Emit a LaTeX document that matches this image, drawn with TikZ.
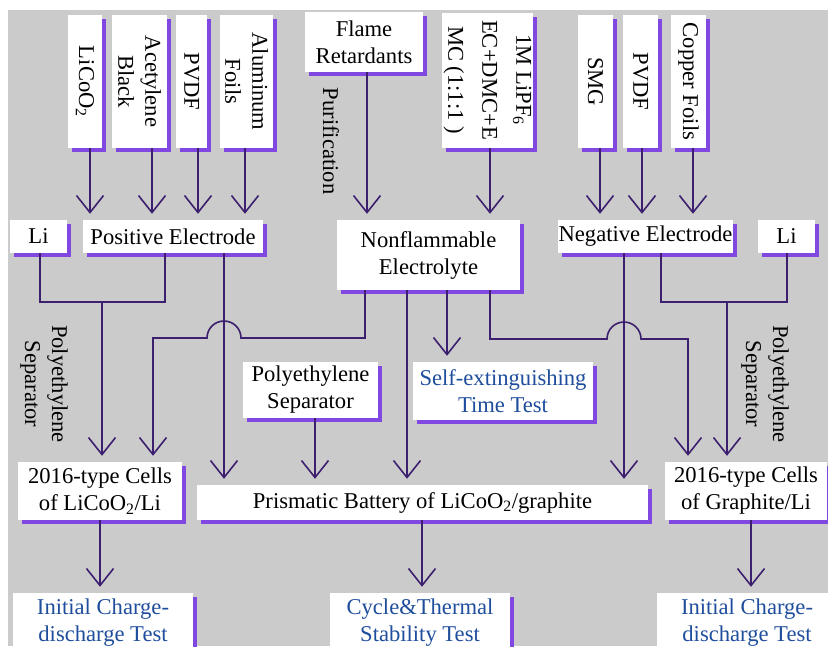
\documentclass[tikz,border=0pt]{standalone}
\usepackage{fontspec}
\setmainfont{Liberation Serif}
\usetikzlibrary{arrows.meta,shadows,positioning}

\definecolor{bggray}{HTML}{CBCBCB}
\definecolor{shadowpurple}{HTML}{8048E0}
\definecolor{linepurple}{HTML}{3C1F6E}
\definecolor{testblue}{HTML}{1F4E9C}

\tikzset{
  box/.style={fill=white, inner sep=0pt, align=center,
    general shadow={fill=shadowpurple, shadow xshift=4pt, shadow yshift=-4pt}},
  vbox/.style={box, rotate=-90},
  flow/.style={draw=linepurple, line width=1.6pt},
  arr/.style={flow, ->, shorten >=6pt},
  >={Straight Barb[length=17pt,width=27pt]},
}

\begin{document}
\begin{tikzpicture}[x=1pt, y=-1pt, every node/.style={font=\fontsize{22.6}{27}\selectfont}]
  \useasboundingbox (0,0) rectangle (828,646);
  \clip (0,0) rectangle (828,646);
  \fill[bggray] (8,10) rectangle (828,646); %Background

  %Raw materials
  \node[vbox, minimum width=133pt, minimum height=34pt] (licoo) at (85,81.5) {LiCoO\textsubscript{2}};
  \node[vbox, minimum width=133pt, minimum height=55pt] (acet) at (139.5,81.5) {Acetylene\\Black};
  \node[vbox, minimum width=133pt, minimum height=31pt] (pvdfa) at (191.5,81.5) {PVDF};
  \node[vbox, minimum width=133pt, minimum height=53pt] (alfoil) at (246.5,81.5) {Aluminum\\Foils};
  \node[box, minimum width=118pt, minimum height=60pt] (flame) at (364,42) {Flame\\Retardants};
  \node[vbox, minimum width=135pt, minimum height=91pt,
        font=\fontsize{22.6}{34}\selectfont] (lipf) at (487.5,80) {1M LiPF\textsubscript{6}\\EC+DMC+E\\MC (1:1:1 )};
  \node[vbox, minimum width=133pt, minimum height=35pt] (smg) at (595.5,81.5) {SMG};
  \node[vbox, minimum width=133pt, minimum height=35pt] (pvdfb) at (640.5,81.5) {PVDF};
  \node[vbox, minimum width=133pt, minimum height=35pt] (cufoil) at (688.5,81.5) {Copper Foils};
  \node[rotate=-90] (purif) at (331,141) {Purification};

  %Electrodes and electrolyte
  \node[box, minimum width=57pt, minimum height=33pt] (lil) at (38.5,236.5) {Li};
  \node[box, minimum width=180pt, minimum height=33pt] (posel) at (173,236.5) {Positive Electrode};
  \node[box, minimum width=183pt, minimum height=70pt] (elec) at (428.5,255) {Nonflammable\\Electrolyte};
  \node[box, minimum width=175pt, minimum height=33pt] (negel) at (645.5,236.5) {Negative Electrode};
  \node[box, minimum width=57pt, minimum height=33pt] (lir) at (786.5,236.5) {Li};

  %Separators and flame test
  \node[rotate=-90, align=center] (sepl) at (44,384) {Polyethylene\\Separator};
  \node[rotate=-90, align=center] (sepr) at (765,384) {Polyethylene\\Separator};
  \node[box, minimum width=135pt, minimum height=56pt] (pesep) at (310.5,390) {Polyethylene\\Separator};
  \node[box, minimum width=180pt, minimum height=58pt, text=testblue] (selfext) at (503,391) {Self-extinguishing\\Time Test};

  %Cells
  \node[box, minimum width=164pt, minimum height=58pt] (celll) at (100,491) {2016-type Cells\\of LiCoO\textsubscript{2}/Li};
  \node[box, minimum width=451pt, minimum height=35pt] (prism) at (422.5,502.5) {Prismatic Battery of LiCoO\textsubscript{2}/graphite};
  \node[box, minimum width=162pt, minimum height=58pt] (cellr) at (746,491) {2016-type Cells\\of Graphite/Li};

  %Tests
  \node[box, minimum width=180pt, minimum height=60pt, text=testblue] (testl) at (103,623) {Initial Charge-\\discharge Test};
  \node[box, minimum width=180pt, minimum height=60pt, text=testblue] (cyc) at (420,623) {Cycle\&Thermal\\Stability Test};
  \node[box, minimum width=180pt, minimum height=60pt, text=testblue] (testr) at (747,623) {Initial Charge-\\discharge Test};

  %Raw materials into electrodes
  \foreach \n/\x in {licoo/90, acet/152, pvdfa/198, alfoil/245}
    \draw[arr] (\n.east -| \x,0) -- (posel.north -| \x,0);
  \foreach \n/\x in {smg/600, pvdfb/642, cufoil/693}
    \draw[arr] (\n.east -| \x,0) -- (negel.north -| \x,0);
  \draw[arr] (flame.south -| 367,0) -- (elec.north -| 367,0);
  \draw[arr] (lipf.east -| 490,0) -- (elec.north -| 490,0);

  %Li and electrodes to half cells
  \coordinate (jl) at (102,302);
  \draw[flow] (lil.south -| 40,0) |- (jl) -| (posel.south -| 165,0);
  \draw[arr] (jl) -- (celll.north -| jl);
  \coordinate (jr) at (727,302);
  \draw[flow] (negel.south -| 661,0) |- (jr) -| (lir.south -| 787,0);
  \draw[arr] (jr) -- (cellr.north -| jr);

  %Into the prismatic battery
  \draw[arr] (posel.south -| 224,0) -- (prism.north -| 224,0);
  \draw[arr] (pesep.south -| 315,0) -- (prism.north -| 315,0);
  \draw[arr] (elec.south -| 407,0) -- (prism.north -| 407,0);
  \draw[arr] (negel.south -| 624,0) -- (prism.north -| 624,0);
  \draw[arr] (elec.south -| 447,0) -- (selfext.north -| 447,0);

  %Electrolyte to half cells (hopping over)
  \draw[arr] (elec.south -| 365,0) |- (241,338) arc[start angle=0, end angle=180, radius=17pt]
    -- (153,338) -- (celll.north -| 153,0);
  \draw[arr] (elec.south -| 490,0) |- (607,339) arc[start angle=180, end angle=0, radius=17pt]
    -- (688,339) -- (cellr.north -| 688,0);

  %Tests
  \draw[arr] (celll.south -| 100,0) -- (testl.north -| 100,0);
  \draw[arr] (prism.south -| 422,0) -- (cyc.north -| 422,0);
  \draw[arr] (cellr.south -| 751,0) -- (testr.north -| 751,0);
\end{tikzpicture}
\end{document}
